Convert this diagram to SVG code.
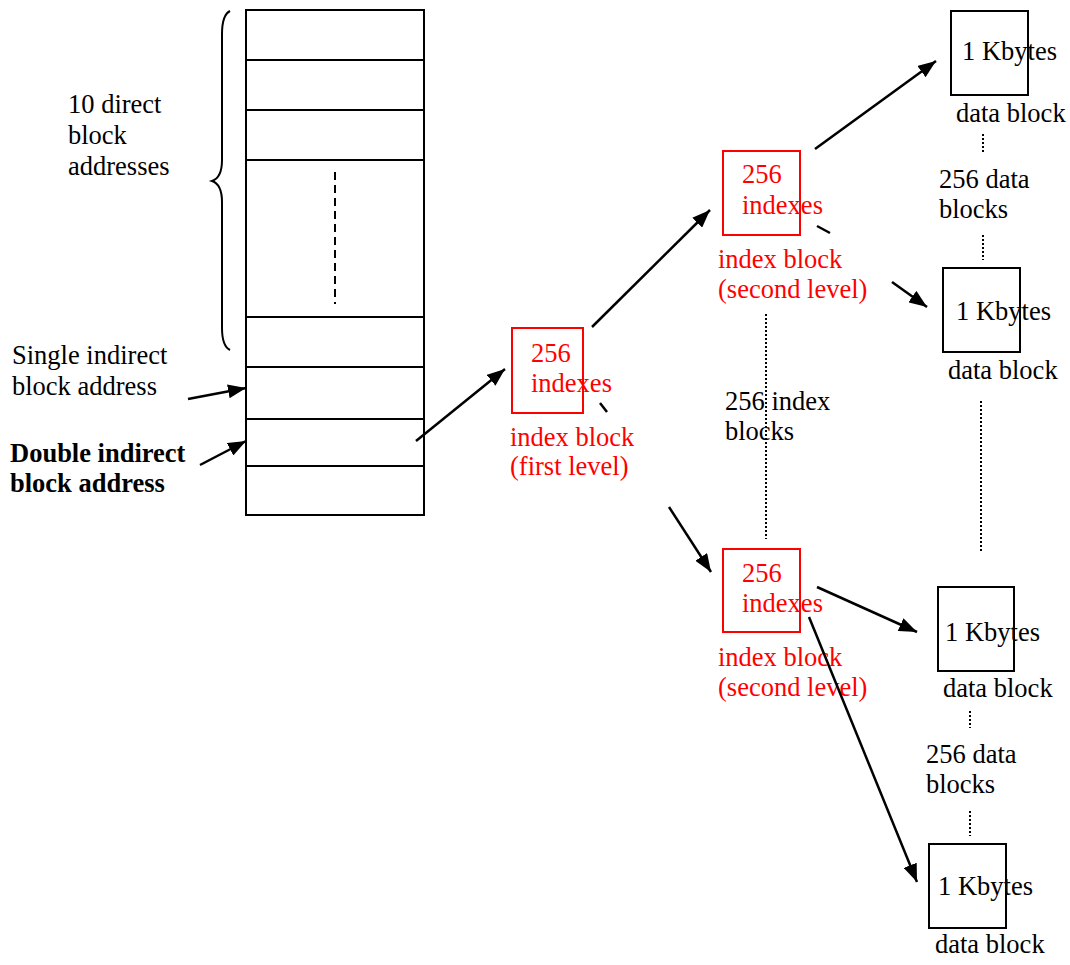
<svg xmlns="http://www.w3.org/2000/svg" width="1070" height="965" viewBox="0 0 1070 965">
<style>
text{font-family:"Liberation Serif","Times New Roman",serif;font-size:26.5px;fill:#000}
.red{fill:#ff0000}
.b{font-weight:bold}
.tbl{fill:none;stroke:#000;stroke-width:2}
.rbox{fill:none;stroke:#ff0000;stroke-width:2}
.dbox{fill:none;stroke:#000;stroke-width:2}
.arr{stroke:#000;stroke-width:2.5;fill:none}
.arrh{stroke:#000;stroke-width:2.5;fill:none;marker-end:url(#ah)}
.dot{stroke:#000;stroke-width:2;stroke-dasharray:2 2;fill:none}
</style>
<defs>
<marker id="ah" viewBox="0 0 18 14" refX="18" refY="7" markerWidth="18" markerHeight="14" markerUnits="userSpaceOnUse" orient="auto">
<path d="M0,0 L18,7 L0,14 z" fill="#000"/>
</marker>
</defs>
<rect width="1070" height="965" fill="#fff"/>
<g id="inode-table">
<rect class="tbl" x="246" y="10" width="178" height="505"/>
<line class="tbl" x1="246" y1="60" x2="424" y2="60"/>
<line class="tbl" x1="246" y1="110" x2="424" y2="110"/>
<line class="tbl" x1="246" y1="160" x2="424" y2="160"/>
<line class="tbl" x1="246" y1="317" x2="424" y2="317"/>
<line class="tbl" x1="246" y1="367" x2="424" y2="367"/>
<line class="tbl" x1="246" y1="419" x2="424" y2="419"/>
<line class="tbl" x1="246" y1="466" x2="424" y2="466"/>
<line x1="335" y1="172" x2="335" y2="304" stroke="#000" stroke-width="2" stroke-dasharray="8 5"/>
</g>
<g id="brace">
<path d="M230,11 C224,14 222,22 222,34 L222,160 C222,172 218,179 212,181 C218,183 222,190 222,202 L222,328 C222,340 224,347 230,350" fill="none" stroke="#000" stroke-width="2"/>
<text x="68" y="113">10 direct</text>
<text x="68" y="144">block</text>
<text x="68" y="175">addresses</text>
</g>
<g id="label-single">
<text x="12" y="364">Single indirect</text>
<text x="12" y="395">block address</text>
</g>
<g id="label-double">
<text class="b" x="10" y="462">Double indirect</text>
<text class="b" x="10" y="492">block address</text>
</g>
<g id="index-first">
<rect class="rbox" x="512" y="328" width="71" height="85"/>
<text class="red" x="531" y="362">256</text>
<text class="red" x="531" y="392">indexes</text>
<text class="red" x="510" y="446">index block</text>
<text class="red" x="510" y="475">(first level)</text>
</g>
<g id="index-second-top">
<rect class="rbox" x="723" y="151" width="77" height="84"/>
<text class="red" x="742" y="183">256</text>
<text class="red" x="742" y="214">indexes</text>
<text class="red" x="718" y="268">index block</text>
<text class="red" x="718" y="298">(second level)</text>
</g>
<g id="index-second-bottom">
<rect class="rbox" x="723" y="549" width="77" height="83"/>
<text class="red" x="742" y="582">256</text>
<text class="red" x="742" y="612">indexes</text>
<text class="red" x="718" y="666">index block</text>
<text class="red" x="718" y="696">(second level)</text>
</g>
<g id="data-1">
<rect class="dbox" x="951" y="11" width="77" height="84"/>
<text x="962" y="60">1 Kbytes</text>
<text x="956" y="122">data block</text>
</g>
<g id="data-2">
<rect class="dbox" x="943" y="268" width="77" height="84"/>
<text x="956" y="320">1 Kbytes</text>
<text x="948" y="379">data block</text>
</g>
<g id="data-3">
<rect class="dbox" x="938" y="587" width="76" height="84"/>
<text x="945" y="641">1 Kbytes</text>
<text x="943" y="697">data block</text>
</g>
<g id="data-4">
<rect class="dbox" x="929" y="844" width="77" height="84"/>
<text x="938" y="895">1 Kbytes</text>
<text x="935" y="953">data block</text>
</g>
<g id="labels-counts">
<text x="939" y="188">256 data</text>
<text x="939" y="218">blocks</text>
<text x="725" y="410">256 index</text>
<text x="725" y="440">blocks</text>
<text x="926" y="763">256 data</text>
<text x="926" y="793">blocks</text>
</g>
<g id="connectors">
<line class="arrh" x1="188" y1="399" x2="246" y2="388"/>
<line class="arrh" x1="200" y1="465" x2="246" y2="441"/>
<line class="arrh" x1="416" y1="441" x2="505" y2="369"/>
<line class="arrh" x1="592" y1="327" x2="710" y2="210"/>
<line class="arr" x1="600" y1="403" x2="607" y2="412"/>
<line class="arrh" x1="669" y1="507" x2="711" y2="572"/>
<line class="arrh" x1="815" y1="149" x2="936" y2="61"/>
<line class="arr" x1="817" y1="226" x2="830" y2="233"/>
<line class="arrh" x1="892" y1="282" x2="927" y2="307"/>
<line class="arrh" x1="817" y1="587" x2="917" y2="632"/>
<line class="arrh" x1="809" y1="617" x2="917" y2="882"/>
<line class="dot" x1="983" y1="134" x2="983" y2="153"/>
<line class="dot" x1="983" y1="235" x2="983" y2="260"/>
<line class="dot" x1="766" y1="314" x2="766" y2="539"/>
<line class="dot" x1="981" y1="401" x2="981" y2="552"/>
<line class="dot" x1="970" y1="711" x2="970" y2="728"/>
<line class="dot" x1="970" y1="811" x2="970" y2="836"/>
</g>
</svg>
